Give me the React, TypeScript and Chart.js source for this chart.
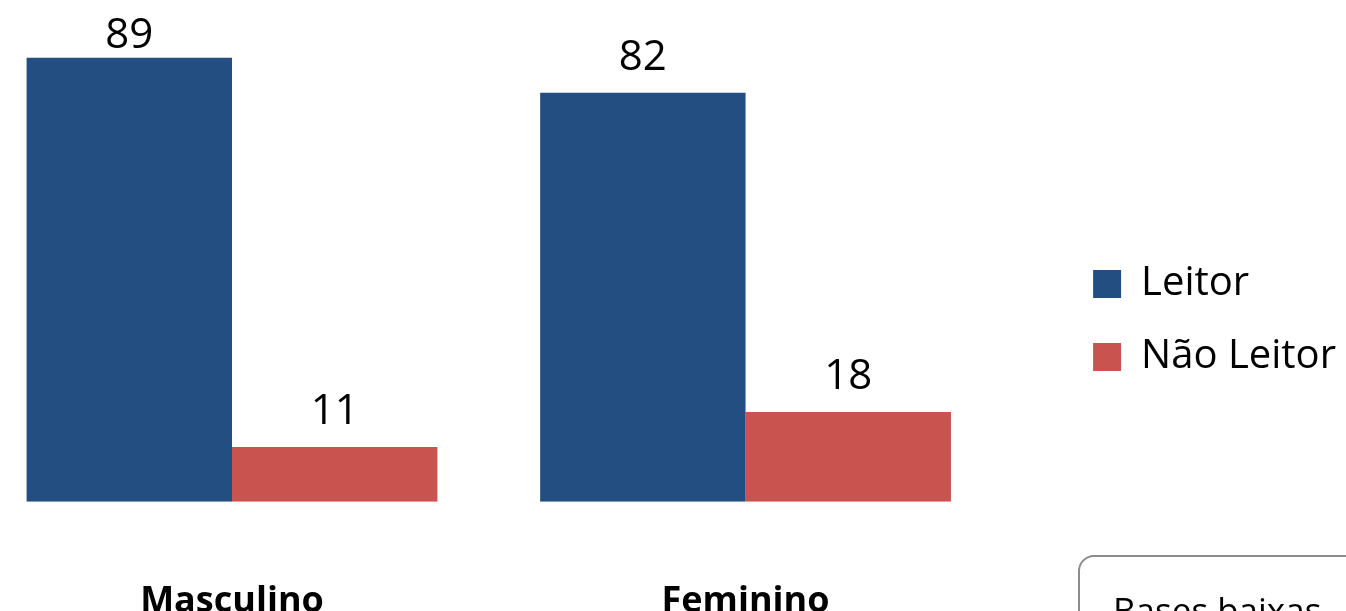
import React, { useEffect, useRef } from "react";
import { Chart, registerables } from "chart.js";

Chart.register(...registerables);

const categories = ["Masculino", "Feminino"];
const leitorValues = [89, 82];
const naoLeitorValues = [11, 18];
const seriesNames = ["Leitor", "Não Leitor"];
const noteText = "Bases baixas";

const BLUE = "#234E81";
const RED = "#C9544F";

const dataLabelPlugin = {
  id: "dataLabels",
  afterDatasetsDraw(chart: any) {
    const ctx = chart.ctx;
    const yScale = chart.scales.y;
    ctx.save();
    ctx.font = "42px 'Open Sans'";
    ctx.fillStyle = "#000";
    ctx.textAlign = "center";
    ctx.textBaseline = "alphabetic";
    chart.data.datasets.forEach((ds: any, di: number) => {
      const meta = chart.getDatasetMeta(di);
      meta.data.forEach((el: any, i: number) => {
        const v = ds.data[i].y;
        const y = Math.max(el.y - 23, yScale.getPixelForValue(100) + 45);
        ctx.fillText(String(v), el.x, y);
      });
    });
    ctx.restore();
  },
};

export default function App() {
  const ref = useRef<HTMLCanvasElement>(null);
  useEffect(() => {
    if (!ref.current) return;
    const chart = new Chart(ref.current, {
      type: "bar",
      data: {
        datasets: [
          {
            label: seriesNames[0],
            data: leitorValues.map((v, i) => ({ x: i, y: v })),
            backgroundColor: BLUE,
            borderWidth: 0,
          },
          {
            label: seriesNames[1],
            data: naoLeitorValues.map((v, i) => ({ x: i, y: v })),
            backgroundColor: RED,
            borderWidth: 0,
          },
        ],
      },
      options: {
        animation: false,
        responsive: false,
        maintainAspectRatio: false,
        datasets: { bar: { categoryPercentage: 0.8, barPercentage: 1.0 } },
        layout: { padding: { top: 20, bottom: 0, left: 0, right: 0 } },
        plugins: {
          tooltip: { enabled: false },
          legend: {
            position: "right",
            labels: {
              boxWidth: 28,
              boxHeight: 28,
              padding: 33,
              color: "#000",
              font: { family: "'Open Sans'", size: 40 },
            },
          },
        },
        scales: {
          x: {
            type: "linear",
            min: -0.4518,
            max: 1.6125,
            offset: false,
            grid: { display: false, drawTicks: false },
            border: { display: false },
            afterBuildTicks: (scale: any) => {
              scale.ticks = categories.map((_, i) => ({ value: i }));
            },
            ticks: {
              padding: 78,
              color: "#000",
              font: { family: "'Open Sans'", size: 36, weight: "bold" },
              callback: (v: any) => categories[v] ?? "",
            },
          },
          y: {
            display: false,
            min: 0,
            max: 112.6,
          },
        },
      },
      plugins: [dataLabelPlugin],
    });
    return () => chart.destroy();
  }, []);

  return (
    <div style={{ position: "fixed", left: 0, top: 0, width: 1346, height: 611, overflow: "hidden", background: "#fff" }}>
      <canvas ref={ref} width={1346} height={781} style={{ position: "absolute", left: 0, top: -80 }} />
      <div
        style={{
          position: "absolute",
          left: 1078,
          top: 555,
          width: 290,
          height: 120,
          border: "2px solid #8c8c8c",
          borderRadius: 16,
          boxSizing: "border-box",
          fontFamily: "'Open Sans'",
          fontSize: 35,
          color: "#000",
          paddingLeft: 33,
          paddingTop: 29,
          lineHeight: "normal",
          whiteSpace: "nowrap",
        }}
      >
        {noteText}
      </div>
    </div>
  );
}
